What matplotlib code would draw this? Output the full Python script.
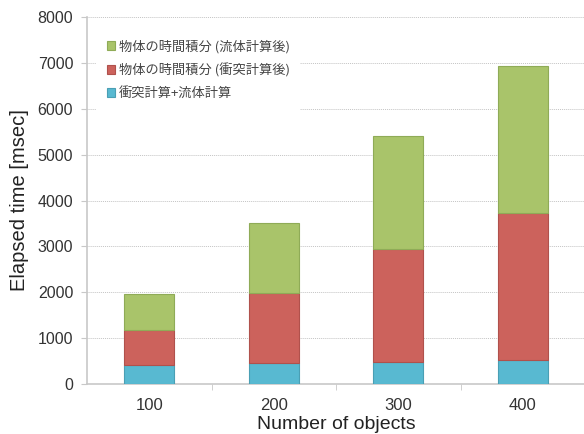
import numpy as np
import matplotlib.pyplot as plt

# Elapsed time per stage, stacked (msec)
objects = ['100', '200', '300', '400']
collision_fluid = [410, 450, 490, 525]        # 衝突計算+流体計算
integ_after_collision = [770, 1530, 2450, 3195]  # 物体の時間積分 (衝突計算後)
integ_after_fluid = [785, 1520, 2460, 3200]      # 物体の時間積分 (流体計算後)

labels = ['衝突計算+流体計算', '物体の時間積分 (衝突計算後)', '物体の時間積分 (流体計算後)']
colors = ['#58b9d1', '#cc625c', '#a9c46a']
edges = ['#4a9fb4', '#b0514c', '#8fab57']

plt.rcParams['font.family'] = ['Liberation Sans', 'Noto Sans CJK JP']

fig = plt.figure(figsize=(5.84, 4.34), dpi=100)
ax = fig.add_axes([0.149, 0.115, 0.853, 0.846])

x = np.arange(len(objects))
series = [collision_fluid, integ_after_collision, integ_after_fluid]
bottom = np.zeros(len(objects))
handles = []
for vals, lab, c, ec in zip(series, labels, colors, edges):
    h = ax.bar(x, vals, width=0.4, bottom=bottom, color=c, edgecolor=ec,
               linewidth=0.8, label=lab, zorder=3)
    handles.append(h)
    bottom += np.array(vals)

ax.set_xlim(-0.5, len(objects) - 0.5)
ax.set_ylim(0, 8000)
ax.set_yticks(np.arange(0, 8001, 1000))
ax.set_xticks(x)
ax.set_xticklabels(objects)
ax.set_xticks(np.arange(0.5, len(objects) - 0.5), minor=True)

ax.grid(axis='y', linestyle=(0, (1, 1)), color='#c4c4c4', linewidth=0.7, zorder=0)
for s in ['top', 'right']:
    ax.spines[s].set_visible(False)
for s in ['left', 'bottom']:
    ax.spines[s].set_color('#c8c8c8')
    ax.spines[s].set_linewidth(1.2)

ax.tick_params(axis='x', which='major', length=0, pad=10, labelsize=12, labelcolor='#333333')
ax.tick_params(axis='x', which='minor', length=4, color='#c8c8c8', direction='out')
ax.tick_params(axis='y', length=4, color='#c8c8c8', labelsize=11.5, labelcolor='#333333', pad=6)

ax.set_xlabel('Number of objects', fontsize=14, color='#222222', labelpad=2)
ax.set_ylabel('Elapsed time [msec]', fontsize=14.5, color='#222222', labelpad=6)

leg = ax.legend(handles[::-1], labels[::-1], loc='upper left',
                bbox_to_anchor=(0.005, 0.985), frameon=True, fancybox=False,
                edgecolor='none', facecolor='white', framealpha=1,
                prop={'family': ['Noto Sans CJK JP'], 'size': 9.5},
                handlelength=0.6, handleheight=0.6, handletextpad=0.3,
                labelspacing=0.75, borderpad=0.8)
for t in leg.get_texts():
    t.set_color('#444444')
leg.set_zorder(5)

fig.savefig('out.png', dpi=100)
